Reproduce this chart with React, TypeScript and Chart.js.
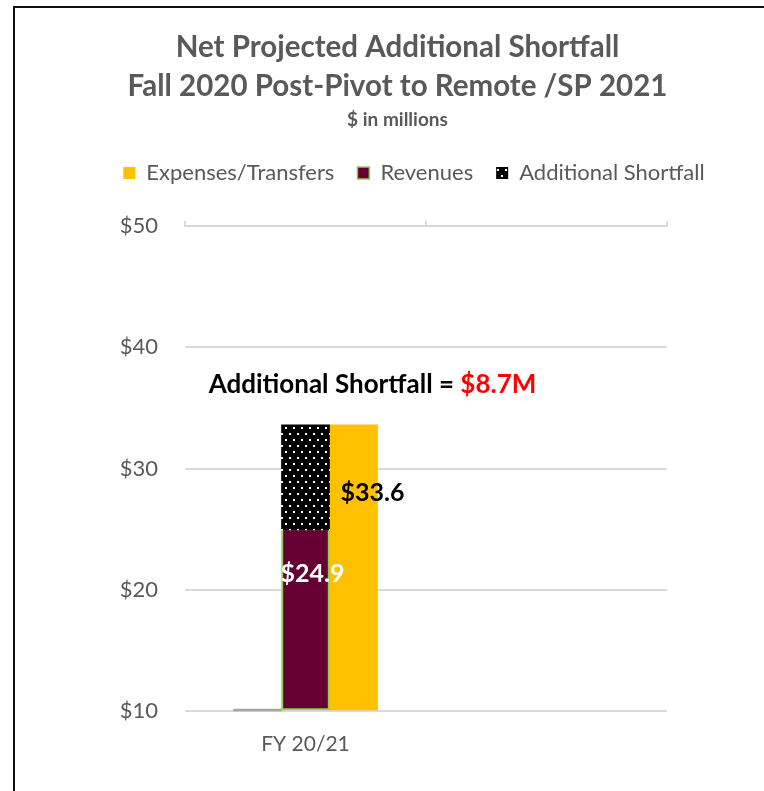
import React, { useEffect, useRef } from 'react';
import { Chart, registerables } from 'chart.js';

Chart.register(...registerables);

// ---- data ----
const categories = ['FY 20/21', ''];
const expensesTransfers = [33.6, null];
const revenues = [24.9, null];
const additionalShortfall = [8.7, null];
const blankSeries = [0, null];
const yTickValues = [10, 20, 30, 40, 50];
const titleLines = ['Net Projected Additional Shortfall', 'Fall 2020 Post-Pivot to Remote /SP 2021'];
const subtitleText = '$ in millions';
const seriesNames = ['Expenses/Transfers', 'Revenues', 'Additional Shortfall'];
const annotationLabel = 'Additional Shortfall = ';

const FONT = 'Lato, "Open Sans", sans-serif';
const GRAY = '#595959';
const GRID = '#d9d9d9';

function makeDotPattern(): CanvasPattern | string {
  const c = document.createElement('canvas');
  c.width = 8;
  c.height = 12;
  const g = c.getContext('2d');
  if (!g) return '#000';
  g.fillStyle = '#000';
  g.fillRect(0, 0, 8, 12);
  g.fillStyle = '#fff';
  g.fillRect(1, 1, 2, 2);
  g.fillRect(5, 7, 2, 2);
  return g.createPattern(c, 'repeat') || '#000';
}

const yMin = yTickValues[0];
const yMax = yTickValues[yTickValues.length - 1];

const labelsPlugin = {
  id: 'valueLabels',
  afterDatasetsDraw(chart: any) {
    const ctx = chart.ctx;
    const rev = chart.getDatasetMeta(1).data[0];
    const exp = chart.getDatasetMeta(3).data[0];
    const area = chart.chartArea;
    ctx.save();
    ctx.textBaseline = 'middle';
    ctx.textAlign = 'center';
    ctx.font = `bold 25px ${FONT}`;
    if (rev) {
      ctx.fillStyle = '#ffffff';
      ctx.fillText('$' + (revenues[0] as number).toFixed(1), rev.x + 7, rev.y + 44);
    }
    if (exp) {
      ctx.fillStyle = '#000000';
      ctx.fillText('$' + (expensesTransfers[0] as number).toFixed(1), exp.x + 19, exp.y + 68);
    }
    // annotation
    ctx.font = `bold 26px ${FONT}`;
    const valueText = '$' + (additionalShortfall[0] as number).toFixed(1) + 'M';
    const w1 = ctx.measureText(annotationLabel).width;
    const w2 = ctx.measureText(valueText).width;
    const cx = area.left + 187.5;
    const cy = area.top + 159;
    const x0 = cx - (w1 + w2) / 2;
    ctx.textAlign = 'left';
    ctx.fillStyle = '#000000';
    ctx.fillText(annotationLabel, x0, cy);
    ctx.fillStyle = '#ff0000';
    ctx.fillText(valueText, x0 + w1, cy);
    ctx.restore();
  },
};

const legendShiftPlugin = {
  id: 'legendShift',
  afterLayout(chart: any) {
    const lg = chart.legend;
    if (lg) {
      lg.left += 16.5;
      lg.right += 16.5;
    }
  },
};

export default function App() {
  const ref = useRef<HTMLCanvasElement | null>(null);

  useEffect(() => {
    if (!ref.current) return;
    const pattern = makeDotPattern();
    const legendOrder = [3, 1, 2];
    const chart = new Chart(ref.current, {
      type: 'bar',
      data: {
        labels: categories,
        datasets: [
          {
            label: 'blank',
            data: blankSeries.map((v) => (v === null ? null : [yMin, yMin + v])) as any,
            backgroundColor: '#a5a5a5',
            borderWidth: 0,
            minBarLength: 2,
            stack: 'a',
            clip: false as any,
          },
          {
            label: seriesNames[1],
            data: revenues as any,
            backgroundColor: '#660033',
            borderColor: '#92d050',
            borderWidth: { top: 0, left: 2, right: 2, bottom: 2 },
            borderSkipped: false,
            base: yMin,
            stack: 'b',
          },
          {
            label: seriesNames[2],
            data: additionalShortfall as any,
            backgroundColor: pattern as any,
            borderWidth: 0,
            stack: 'b',
          },
          {
            label: seriesNames[0],
            data: expensesTransfers as any,
            backgroundColor: '#ffc000',
            borderWidth: 0,
            base: yMin,
            stack: 'c',
          },
        ],
      },
      options: {
        responsive: false,
        animation: false,
        devicePixelRatio: 1,
        barThickness: 48 as any,
        layout: { padding: { left: 31, right: 0, top: 0, bottom: 0 } },
        plugins: {
          tooltip: { enabled: false },
          title: {
            display: true,
            text: titleLines,
            color: GRAY,
            font: { family: FONT, size: 29.5, weight: 'bold', lineHeight: '39px' as any },
            padding: { top: 28, bottom: 0 },
          },
          subtitle: {
            display: true,
            text: subtitleText,
            color: GRAY,
            font: { family: FONT, size: 19, weight: 'bold', lineHeight: '18px' as any },
            padding: { top: 5, bottom: 10 },
          },
          legend: {
            display: true,
            position: 'top',
            labels: {
              boxWidth: 12,
              boxHeight: 12,
              padding: 23,
              color: GRAY,
              font: { family: FONT, size: 22 },
              filter: (item: any) => item.datasetIndex !== 0,
              sort: (a: any, b: any) => legendOrder.indexOf(a.datasetIndex) - legendOrder.indexOf(b.datasetIndex),
            },
          },
        },
        scales: {
          x: {
            type: 'category',
            stacked: true,
            offset: true,
            grid: { display: false, drawTicks: false, offset: true },
            border: { display: false },
            ticks: { color: GRAY, font: { family: FONT, size: 21 }, padding: 21 },
            afterFit: (s: any) => {
              s.height = 80;
            },
          },
          x2: {
            type: 'category',
            axis: 'x',
            position: 'top',
            offset: true,
            grid: { display: true, drawOnChartArea: false, drawTicks: true, tickLength: 5, color: GRID, lineWidth: 2, offset: true },
            border: { display: true, color: GRID, width: 2 },
            ticks: { display: false },
            afterFit: (s: any) => {
              s.height = 32;
            },
          },
          y: {
            type: 'linear',
            stacked: true,
            min: yMin,
            max: yMax,
            grid: { color: GRID, lineWidth: 2, drawTicks: false },
            border: { display: false },
            ticks: {
              stepSize: 10,
              padding: 27,
              color: GRAY,
              font: { family: FONT, size: 22 },
              callback: (v: any) => '$' + v,
            },
            afterFit: (s: any) => {
              s.width = 154;
            },
          },
          yRight: {
            type: 'linear',
            axis: 'y',
            position: 'right',
            display: true,
            grid: { display: false, drawTicks: false },
            border: { display: false },
            ticks: { display: false },
            afterFit: (s: any) => {
              s.width = 97;
            },
          },
        },
      } as any,
      plugins: [labelsPlugin, legendShiftPlugin],
    });
    return () => chart.destroy();
  }, []);

  return (
    <div style={{ position: 'fixed', left: 0, top: 0, width: 764, height: 791, background: '#fff' }}>
      <canvas ref={ref} width={764} height={791} style={{ position: 'absolute', left: 0, top: 0 }} />
      <div
        style={{
          position: 'absolute',
          left: 13,
          top: 6,
          width: 751,
          height: 785,
          boxSizing: 'border-box',
          borderLeft: '2px solid #111',
          borderTop: '2px solid #111',
          pointerEvents: 'none',
        }}
      />
    </div>
  );
}
